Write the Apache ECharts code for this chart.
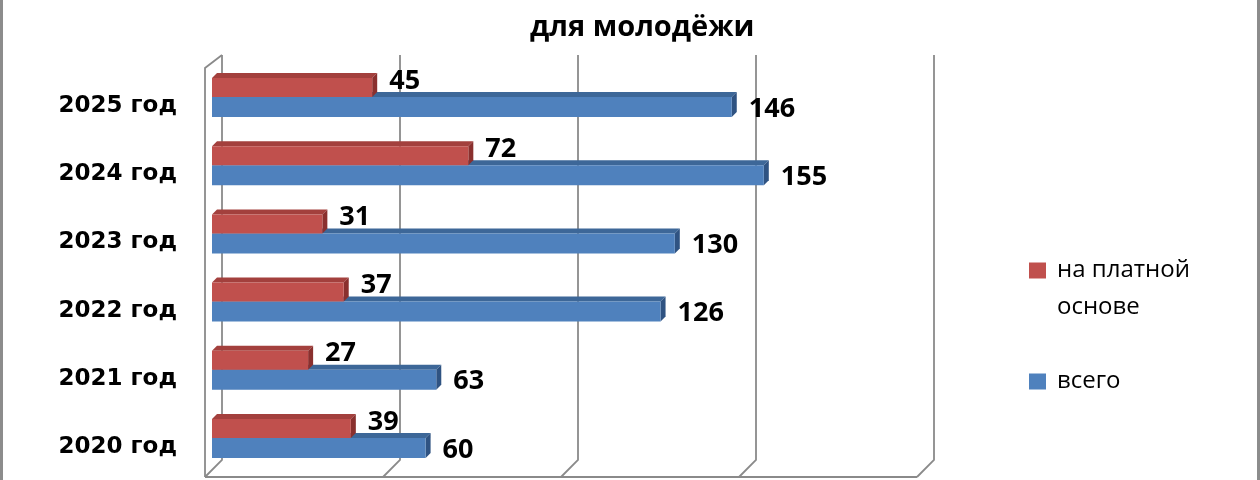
<!DOCTYPE html>
<html>
<head>
<meta charset="utf-8">
<title>для молодёжи</title>
<script src="https://cdn.jsdelivr.net/npm/echarts@6/dist/echarts.min.js"></script>
<style>
    html, body { margin: 0; padding: 0; background: #fff; }
    #wrap { position: relative; width: 1260px; height: 480px; }
    #chart { width: 1260px; height: 480px; }
    .edge { position: absolute; top: 0; width: 3px; height: 480px; background: #8c8c8c; }
</style>
</head>
<body>
<div id="wrap">
    <div id="chart"></div>
    <div class="edge" style="left:0"></div>
    <div class="edge" style="right:0"></div>
</div>
<script>
// данные диаграммы
const years = ['2020 год', '2021 год', '2022 год', '2023 год', '2024 год', '2025 год']
const totalValues = [60, 63, 126, 130, 155, 146]
const paidValues = [39, 27, 37, 31, 72, 45]
const xTicks = [0, 50, 100, 150, 200]

const TITLE = 'для молодёжи'
const NAME_PAID = 'на платной основе'
const NAME_TOTAL = 'всего'

const RED = {front: '#C0504D', top: '#A3403D', side: '#8A302E'}
const BLUE = {front: '#4F81BD', top: '#3D6798', side: '#2F5382'}
const GRID_COLOR = '#8a8a8a'
const DEPTH = 5

/**
 * 3D-подобный столбик с подписью
 * @param colors цвета граней
 * @param upper true - верхний столбик в паре
 */
const bar3d = function (colors, upper) {
    return function (params, api) {
        let val = api.value(0)
        let cat = api.value(1)
        let p0 = api.coord([0, cat])
        let p1 = api.coord([val, cat])
        let x0 = p0[0]
        let x1 = p1[0]
        let cy = p0[1]
        let h = upper ? 19 : 20
        let y0 = upper ? cy - 19 : cy
        let d = DEPTH
        return {
            type: 'group',
            children: [
                {
                    type: 'polygon',
                    shape: {points: [[x0, y0], [x0 + d, y0 - d], [x1 + d, y0 - d], [x1, y0]]},
                    style: {fill: colors.top}
                },
                {
                    type: 'polygon',
                    shape: {points: [[x1, y0], [x1 + d, y0 - d], [x1 + d, y0 + h - d], [x1, y0 + h]]},
                    style: {fill: colors.side}
                },
                {
                    type: 'rect',
                    shape: {x: x0, y: y0, width: x1 - x0, height: h},
                    style: {fill: colors.front}
                },
                {
                    type: 'text',
                    x: x1 + 17,
                    y: upper ? cy - 16 : cy + 12,
                    style: {
                        text: String(val),
                        fill: '#000',
                        font: 'bold 27px "Open Sans", sans-serif',
                        verticalAlign: 'middle',
                        align: 'left'
                    }
                }
            ]
        }
    }
}

/**
 * линии сетки с перспективой (задняя стенка, пол, левая стенка)
 */
const gridLines = function (params, api) {
    let cs = params.coordSys
    let v = api.value(0)
    let x = api.coord([v, 0])[0]
    let top = cs.y
    let bottom = cs.y + cs.height
    let style = {stroke: GRID_COLOR, lineWidth: 1.8, fill: 'none'}
    let children = [{
        type: 'polyline',
        shape: {points: [[x + 10, top - 8], [x + 10, bottom - 12], [x - 7, bottom + 5]]},
        style: style
    }]
    if (params.dataIndex === 0) {
        let xEnd = api.coord([xTicks[xTicks.length - 1], 0])[0]
        children.push({
            type: 'polyline',
            shape: {points: [[x - 7, bottom + 5], [x - 7, top + 5], [x + 10, top - 8]]},
            style: style
        })
        children.push({
            type: 'line',
            shape: {x1: x - 7, y1: bottom + 5, x2: xEnd - 7, y2: bottom + 5},
            style: style
        })
    }
    return {type: 'group', children: children}
}

let dom = document.getElementById('chart')
let chart = echarts.init(dom)

let option = {
    animation: false,
    backgroundColor: '#fff',
    title: {
        text: TITLE,
        left: 525,
        top: 8,
        textStyle: {
            fontFamily: '"Open Sans", sans-serif',
            fontWeight: 'bold',
            fontSize: 29,
            color: '#000'
        }
    },
    legend: [
        {
            data: [{name: NAME_PAID, icon: 'rect'}],
            orient: 'vertical',
            left: 1024,
            top: 210,
            itemWidth: 17,
            itemHeight: 16,
            selectedMode: false,
            formatter: function () {
                // пустая первая строка, чтобы маркер стоял напротив первой строки
                return '\nна платной\nоснове'
            },
            textStyle: {
                fontFamily: '"Open Sans", sans-serif',
                fontSize: 24,
                lineHeight: 37,
                color: '#000',
                padding: [0, 0, 0, 6]
            }
        },
        {
            data: [{name: NAME_TOTAL, icon: 'rect'}],
            orient: 'vertical',
            left: 1024,
            top: 358,
            itemWidth: 17,
            itemHeight: 16,
            selectedMode: false,
            textStyle: {
                fontFamily: '"Open Sans", sans-serif',
                fontSize: 24,
                lineHeight: 37,
                color: '#000',
                padding: [0, 0, 0, 6]
            }
        }
    ],
    grid: {
        left: 212,
        right: 336,
        top: 63,
        bottom: 8,
        containLabel: false
    },
    xAxis: {
        type: 'value',
        min: 0,
        max: 200,
        interval: 50,
        axisLabel: {show: false},
        axisLine: {show: false},
        axisTick: {show: false},
        splitLine: {show: false}
    },
    yAxis: {
        type: 'category',
        data: years,
        axisLine: {show: false},
        axisTick: {show: false},
        axisLabel: {
            margin: 35,
            verticalAlign: 'top',
            lineHeight: 18,
            fontFamily: '"DejaVu Sans", sans-serif',
            fontWeight: 'bold',
            fontSize: 23,
            color: '#000'
        }
    },
    series: [
        {
            name: 'grid',
            type: 'custom',
            silent: true,
            z: 1,
            renderItem: gridLines,
            encode: {x: 0},
            data: xTicks.map(v => [v])
        },
        {
            name: NAME_TOTAL,
            type: 'custom',
            z: 2,
            itemStyle: {color: BLUE.front},
            renderItem: bar3d(BLUE, false),
            encode: {x: 0, y: 1},
            data: totalValues.map((v, i) => [v, i])
        },
        {
            name: NAME_PAID,
            type: 'custom',
            z: 3,
            itemStyle: {color: RED.front},
            renderItem: bar3d(RED, true),
            encode: {x: 0, y: 1},
            data: paidValues.map((v, i) => [v, i])
        }
    ]
}

chart.setOption(option)
window.addEventListener('resize', function () {
    chart.resize()
})
</script>
</body>
</html>
